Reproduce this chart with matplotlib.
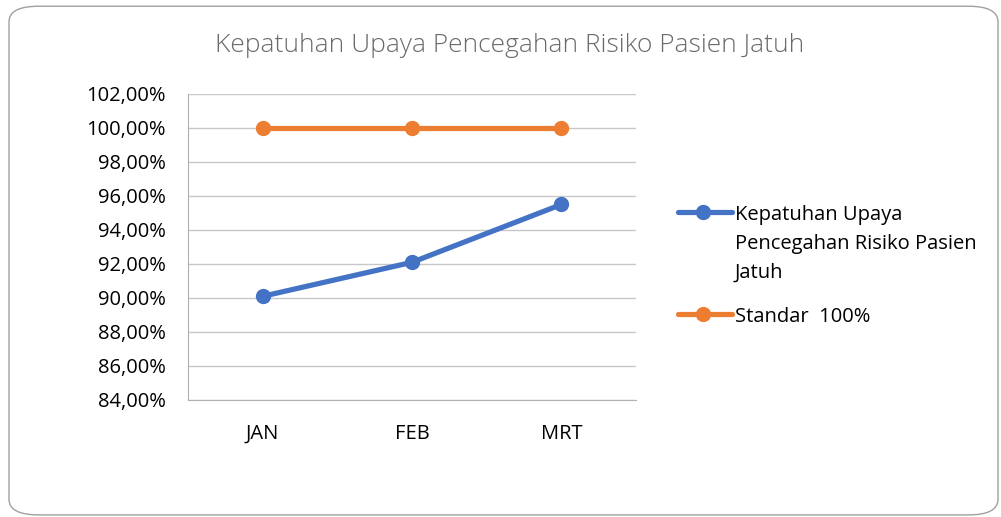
import matplotlib.pyplot as plt
from matplotlib.patches import FancyBboxPatch
from matplotlib.lines import Line2D
from matplotlib.ticker import FuncFormatter

plt.rcParams['font.family'] = ['Open Sans', 'DejaVu Sans']

bulan = ["JAN", "FEB", "MRT"]
kepatuhan = [90.1, 92.1, 95.5]
standar = [100, 100, 100]
y_ticks = [84, 86, 88, 90, 92, 94, 96, 98, 100, 102]
label_seri = ["Kepatuhan Upaya\nPencegahan Risiko Pasien\nJatuh", "Standar  100%"]
warna = ["#4472c4", "#ed7d31"]

W, H = 1001, 517
fig = plt.figure(figsize=(W / 100, H / 100), dpi=100)

# bingkai membulat
box = FancyBboxPatch((0.009, 0.004), 0.988, 0.984, boxstyle="round,pad=0,rounding_size=0.03",
                     transform=fig.transFigure, facecolor="white", edgecolor="#a0a0a0",
                     linewidth=1, zorder=-1)
fig.patches.append(box)

ax = fig.add_axes([188 / W, 1 - 400 / H, 448 / W, 306 / H])
ax.set_facecolor("none")
x = range(len(bulan))
ax.plot(x, kepatuhan, color=warna[0], lw=3.75, marker="o", ms=10, solid_capstyle="round")
ax.plot(x, standar, color=warna[1], lw=3.75, marker="o", ms=10, solid_capstyle="round")

ax.set_xlim(-0.5, 2.5)
ax.set_ylim(84, 102)
ax.set_yticks(y_ticks)
ax.yaxis.set_major_formatter(FuncFormatter(lambda v, p: f"{v:.2f}%".replace(".", ",")))
ax.set_xticks(list(x))
ax.set_xticklabels(bulan)
ax.tick_params(length=0, labelsize=14.5, colors="#000000")
ax.tick_params(axis="y", pad=16)
ax.tick_params(axis="x", pad=17)
ax.grid(axis="y", color="#c8c8c8", lw=1)
ax.set_axisbelow(True)
for s in ["top", "right"]:
    ax.spines[s].set_visible(False)
for s in ["left", "bottom"]:
    ax.spines[s].set_color("#b0b0b0")

fig.text(0.509, 0.912, "Kepatuhan Upaya Pencegahan Risiko Pasien Jatuh", ha="center", va="center",
         fontsize=19, color="#6a6a6a", fontweight="light")

# legenda manual
for yy, lab, c in zip([212, 314], label_seri, warna):
    fy = 1 - yy / H
    fig.add_artist(Line2D([678 / W, 732 / W], [fy, fy], color=c, lw=3.75, solid_capstyle="round"))
    fig.add_artist(Line2D([703 / W], [fy], color=c, marker="o", ms=10))
    fig.text(735 / W, fy + 7 / H, lab, ha="left", va="top", fontsize=14.5, linespacing=1.6)

fig.savefig("out.png", dpi=100)
